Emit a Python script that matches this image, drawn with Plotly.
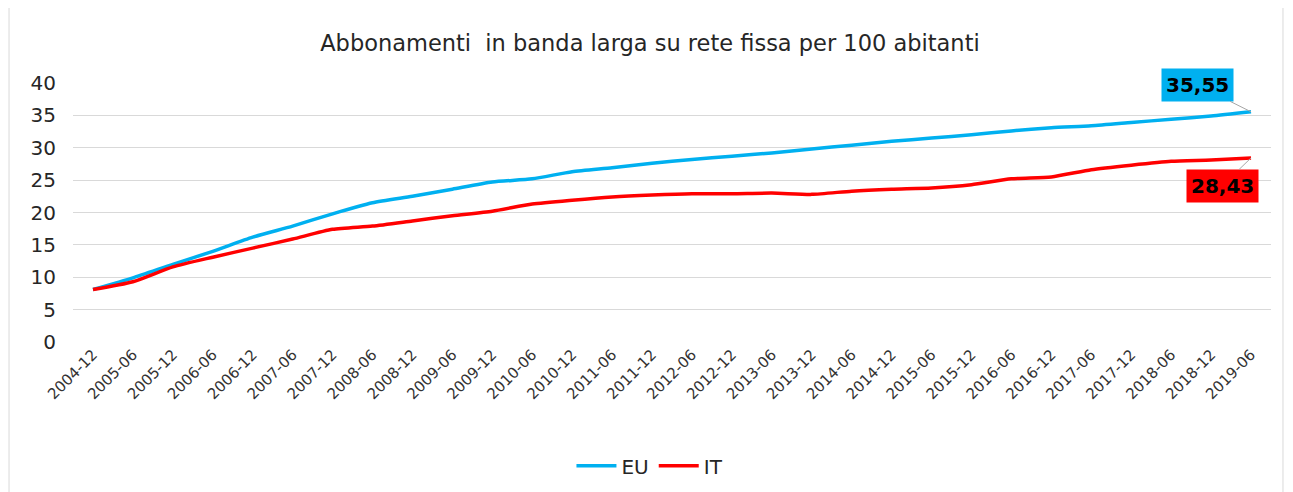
import plotly.graph_objects as go

periods = ["2004-12", "2005-06", "2005-12", "2006-06", "2006-12", "2007-06", "2007-12",
           "2008-06", "2008-12", "2009-06", "2009-12", "2010-06", "2010-12", "2011-06",
           "2011-12", "2012-06", "2012-12", "2013-06", "2013-12", "2014-06", "2014-12",
           "2015-06", "2015-12", "2016-06", "2016-12", "2017-06", "2017-12", "2018-06",
           "2018-12", "2019-06"]

eu = [8.1, 9.9, 12.0, 14.0, 16.2, 17.9, 19.8, 21.5, 22.5, 23.6, 24.7, 25.2, 26.3, 26.9,
      27.6, 28.2, 28.7, 29.2, 29.8, 30.4, 31.0, 31.5, 32.0, 32.6, 33.1, 33.4, 33.9, 34.4,
      34.9, 35.55]

it = [8.1, 9.3, 11.6, 13.1, 14.5, 15.9, 17.4, 17.9, 18.7, 19.5, 20.2, 21.3, 21.9, 22.4,
      22.7, 22.9, 22.9, 23.0, 22.8, 23.3, 23.6, 23.8, 24.3, 25.2, 25.5, 26.6, 27.3, 27.9,
      28.1, 28.43]

y_ticks = [0, 5, 10, 15, 20, 25, 30, 35, 40]

EU_COLOR = "#00B0F0"
IT_COLOR = "#FF0000"
FONT = "DejaVu Sans"

fig = go.Figure()
fig.add_trace(go.Scatter(x=periods, y=eu, name="EU", mode="lines",
                         line=dict(color=EU_COLOR, width=3.5, shape="spline", smoothing=0.6)))
fig.add_trace(go.Scatter(x=periods, y=it, name="IT", mode="lines",
                         line=dict(color=IT_COLOR, width=3.5, shape="spline", smoothing=0.6)))

def fmt(v):
    return f"{v:.2f}".replace(".", ",")

fig.add_annotation(x=periods[-1], y=eu[-1], xref="x", yref="y", text=fmt(eu[-1]),
                   showarrow=True, arrowhead=0, arrowwidth=1, arrowcolor="#A6A6A6",
                   ax=-54, ay=-27, bgcolor=EU_COLOR, borderpad=4,
                   font=dict(family=FONT, size=20, color="black", weight="bold"))
fig.add_annotation(x=periods[-1], y=it[-1], xref="x", yref="y", text=fmt(it[-1]),
                   showarrow=True, arrowhead=0, arrowwidth=1, arrowcolor="#A6A6A6",
                   ax=-29, ay=28, bgcolor=IT_COLOR, borderpad=4,
                   font=dict(family=FONT, size=20, color="black", weight="bold"))

# outer chart border (left and right edges)
for xp in (-0.0534, 1.010):
    fig.add_shape(type="line", xref="paper", yref="paper", x0=xp, x1=xp, y0=-0.6, y1=1.4,
                  line=dict(color="#D9D9D9", width=1), layer="below")

fig.update_layout(
    width=1285, height=484,
    margin=dict(l=65, r=22, t=75, b=150, autoexpand=False),
    paper_bgcolor="white", plot_bgcolor="white",
    font=dict(family=FONT, color="#404040"),
    title=dict(text="Abbonamenti  in banda larga su rete fissa per 100 abitanti",
               x=0.4816, xanchor="center", y=0.928, yanchor="middle", xref="paper",
               font=dict(family=FONT, size=22.5, color="#262626")),
    showlegend=True,
    legend=dict(orientation="h", x=0.4816, xanchor="center", yref="container",
                y=0.054, yanchor="middle",
                font=dict(family=FONT, size=20, color="#262626"), itemwidth=40,
                traceorder="normal"),
)
fig.update_xaxes(type="category", range=[-0.5, len(periods) - 0.5], tickangle=-45,
                 tickfont=dict(family=FONT, size=15, color="#333333"), automargin=False,
                 showgrid=False, showline=False, ticks="", zeroline=False)
fig.update_yaxes(range=[0, 40], tickvals=y_ticks, showgrid=True, gridcolor="#D9D9D9",
                 gridwidth=1, zeroline=False, showline=False, ticks="", automargin=False,
                 tickfont=dict(family=FONT, size=20, color="#262626"), ticklabelstandoff=16)

fig.write_html("out.html")
